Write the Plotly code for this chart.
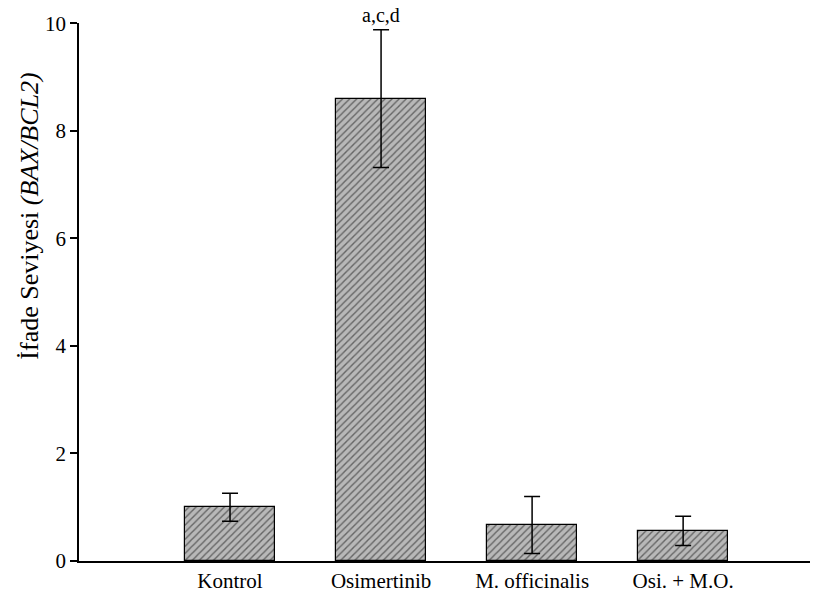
import plotly.graph_objects as go

categories = ["Kontrol", "Osimertinib", "M. officinalis", "Osi. + M.O."]
values = [1.0, 8.6, 0.67, 0.56]
errors = [0.26, 1.28, 0.53, 0.27]
sig_labels = ["", "a,c,d", "", ""]
y_ticks = [0, 2, 4, 6, 8, 10]

FONT = "Liberation Serif"

fig = go.Figure()
fig.add_trace(go.Bar(
    x=list(range(len(categories))),
    y=values,
    width=0.6,
    marker=dict(
        color="#b8b8b8",
        line=dict(color="black", width=1.2),
        pattern=dict(shape="/", fgcolor="#111111", bgcolor="#b8b8b8", size=5, solidity=0.28),
    ),
    error_y=dict(type="data", array=errors, visible=True, color="black", thickness=1.5, width=8),
    showlegend=False,
))

for i, lab in enumerate(sig_labels):
    if lab:
        fig.add_annotation(x=i, y=values[i] + errors[i], text=lab, showarrow=False,
                           yanchor="bottom", yshift=2, font=dict(family=FONT, size=20, color="black"))

fig.add_annotation(xref="paper", yref="paper", x=0, y=0.64, xshift=-49, xanchor="center", yanchor="middle",
                   textangle=-90, showarrow=False,
                   text="İfade Seviyesi <i>(BAX/BCL2)</i>",
                   font=dict(family=FONT, size=26, color="black"))

fig.update_layout(
    width=823, height=605,
    margin=dict(l=79, r=13, t=19, b=42),
    plot_bgcolor="white", paper_bgcolor="white",
    font=dict(family=FONT, size=21, color="black"),
    bargap=0,
)
fig.update_xaxes(
    range=[-1.0, 3.84],
    tickvals=list(range(len(categories))), ticktext=categories,
    showline=True, linecolor="black", linewidth=1.5,
    ticks="", showgrid=False, zeroline=False,
    tickfont=dict(family=FONT, size=21),
)
fig.update_yaxes(
    range=[0, 10.005], tickvals=y_ticks,
    showline=True, linecolor="black", linewidth=1.5,
    ticks="outside", ticklen=7, tickwidth=1.5, tickcolor="black",
    showgrid=False, zeroline=False,
    ticklabeloverflow="allow",
    tickfont=dict(family=FONT, size=21),
)

fig.write_html("out.html", config={"displayModeBar": False},
               post_script="document.body.style.margin='0';")
